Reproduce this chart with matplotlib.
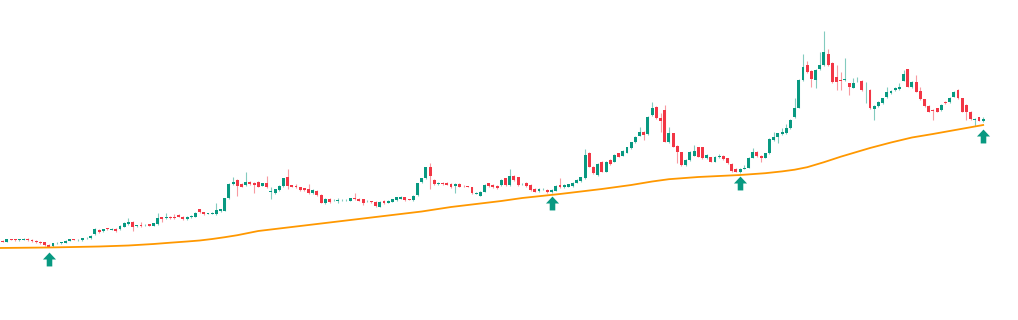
import numpy as np
import matplotlib
matplotlib.use("Agg")
import matplotlib.pyplot as plt
from matplotlib.path import Path

# ── Candle data (price units, one entry per session)
opens = [
    59.0, 58.3, 61.0, 60.7, 60.2, 60.5, 61.0, 60.0, 59.0, 58.3,
    57.7, 55.3, 53.7, 56.7, 57.0, 57.3, 59.3, 60.7, 59.7, 59.7,
    61.7, 61.7, 65.7, 70.0, 68.7, 71.3, 70.5, 71.3, 71.0, 73.3,
    76.0, 78.3, 74.1, 75.0, 74.7, 75.7, 74.3, 76.0, 82.7, 81.7,
    83.3, 83.3, 85.0, 83.3, 81.0, 82.7, 83.3, 90.7, 87.7, 86.5,
    86.5, 85.7, 89.0, 89.3, 101.7, 116.0, 120.0, 116.0, 115.0, 118.3,
    117.3, 118.3, 114.3, 116.7, 108.0, 106.7, 110.0, 114.0, 122.7, 114.7,
    114.0, 112.7, 111.7, 110.7, 106.7, 109.3, 105.0, 96.7, 101.3, 99.7,
    99.2, 99.7, 99.7, 99.3, 101.7, 101.3, 100.7, 98.7, 98.7, 98.3,
    93.3, 99.3, 97.3, 98.3, 100.0, 101.3, 102.7, 100.8, 100.0, 105.0,
    117.7, 121.7, 133.3, 120.0, 116.0, 117.3, 117.3, 116.0, 114.0, 116.0,
    114.2, 113.5, 112.7, 106.5, 104.3, 108.3, 116.7, 115.0, 114.3, 115.0,
    121.7, 115.0, 124.0, 122.7, 115.7, 117.3, 115.0, 111.0, 109.0, 110.7,
    110.0, 107.7, 109.3, 115.0, 112.7, 113.3, 114.0, 117.3, 119.0, 121.7,
    146.7, 133.3, 125.0, 138.3, 128.3, 140.0, 138.3, 146.7, 144.3, 147.3,
    151.7, 157.7, 164.3, 168.3, 166.0, 185.0, 193.3, 182.3, 190.0, 157.7,
    166.7, 154.0, 147.7, 135.0, 140.0, 144.3, 152.7, 152.7, 141.7, 142.7,
    138.3, 143.0, 144.3, 141.7, 136.0, 131.0, 127.7, 131.3, 132.3, 142.3,
    148.3, 144.3, 142.3, 146.7, 160.0, 163.3, 165.7, 166.7, 171.7, 183.0,
    192.3, 220.0, 235.0, 229.0, 220.0, 230.7, 235.0, 245.7, 237.3, 223.3,
    219.5, 220.0, 216.7, 212.3, 218.7, 219.0, 208.7, 210.0, 190.7, 194.0,
    196.7, 202.7, 206.7, 210.0, 210.7, 219.3, 230.7, 212.7, 218.3, 209.0,
    200.7, 194.3, 190.0, 191.7, 190.0, 198.0, 197.7, 203.3, 210.0, 201.7,
    195.0, 188.0, 180.5, 182.7, 179.3,
]
closes = [
    58.3, 61.0, 60.5, 60.2, 60.7, 61.0, 60.0, 59.0, 58.0, 57.3,
    55.3, 53.3, 56.7, 57.0, 57.7, 59.3, 60.7, 60.3, 60.0, 61.7,
    62.2, 64.3, 70.7, 68.3, 70.7, 71.1, 71.0, 69.3, 74.0, 77.3,
    77.7, 73.3, 74.5, 74.0, 75.2, 74.3, 76.7, 81.7, 80.7, 83.3,
    82.0, 82.3, 83.3, 80.7, 83.3, 84.0, 87.3, 87.7, 85.7, 86.8,
    87.0, 90.0, 90.7, 101.7, 116.0, 117.7, 114.0, 113.3, 117.7, 116.0,
    115.3, 113.3, 116.7, 112.7, 108.5, 110.7, 114.0, 121.7, 114.0, 113.3,
    112.7, 110.0, 110.0, 106.7, 110.0, 105.0, 97.3, 101.0, 98.0, 100.0,
    99.7, 100.2, 100.2, 101.7, 101.2, 99.3, 97.3, 99.3, 98.0, 94.0,
    98.3, 96.7, 99.3, 100.7, 102.7, 103.3, 100.0, 100.4, 104.3, 116.7,
    121.7, 132.7, 124.3, 116.0, 117.3, 116.0, 115.3, 112.7, 116.0, 113.3,
    113.7, 113.3, 106.7, 107.0, 108.3, 115.0, 114.0, 112.7, 111.7, 120.0,
    115.0, 124.0, 120.0, 115.0, 116.2, 114.0, 110.0, 108.3, 111.0, 111.0,
    108.0, 110.0, 114.0, 112.7, 115.0, 115.7, 117.3, 120.0, 122.7, 145.0,
    133.3, 126.7, 136.0, 128.3, 138.3, 136.0, 145.0, 143.3, 149.3, 152.7,
    157.7, 163.3, 168.3, 165.0, 183.3, 191.7, 181.7, 179.0, 158.3, 166.7,
    153.3, 147.7, 135.0, 140.0, 148.3, 149.3, 143.3, 141.7, 145.0, 138.3,
    143.3, 143.5, 141.0, 136.7, 129.0, 128.3, 131.0, 131.7, 142.3, 148.3,
    144.0, 142.3, 146.7, 161.0, 163.3, 166.7, 168.3, 171.7, 180.0, 192.3,
    220.0, 233.3, 227.7, 221.0, 230.0, 235.0, 248.3, 235.0, 217.7, 217.7,
    219.0, 220.7, 213.3, 216.7, 219.0, 210.0, 209.0, 191.7, 194.0, 198.3,
    201.7, 208.3, 209.3, 212.3, 213.3, 226.0, 213.3, 218.3, 208.3, 200.7,
    194.0, 188.3, 189.0, 188.3, 195.0, 197.0, 202.3, 208.3, 201.7, 188.3,
    188.0, 181.0, 181.0, 179.3, 181.3,
]
highs = [
    59.8, 61.5, 61.5, 61.5, 61.5, 61.8, 61.8, 60.8, 59.8, 59.0,
    58.3, 56.0, 57.3, 57.8, 58.5, 60.0, 61.3, 61.5, 60.8, 62.3,
    63.0, 65.0, 72.0, 70.8, 71.3, 72.0, 71.7, 72.0, 75.3, 78.0,
    82.3, 79.0, 75.3, 78.0, 76.0, 76.3, 77.3, 86.7, 83.3, 86.7,
    84.0, 86.0, 85.7, 84.0, 84.0, 84.7, 88.0, 91.3, 88.3, 87.5,
    87.7, 96.7, 91.3, 102.3, 117.3, 123.3, 120.7, 116.7, 128.3, 119.0,
    118.0, 119.0, 117.3, 124.0, 112.7, 111.3, 114.7, 122.3, 130.7, 115.3,
    116.0, 113.3, 112.3, 116.0, 110.7, 110.0, 105.7, 101.7, 102.0, 100.7,
    101.7, 101.0, 101.0, 102.3, 107.3, 102.0, 101.3, 100.0, 99.3, 99.0,
    99.0, 100.0, 100.0, 101.3, 103.3, 104.0, 103.3, 101.5, 105.0, 117.3,
    122.3, 133.3, 137.3, 120.7, 118.0, 118.0, 118.0, 116.7, 116.7, 116.7,
    115.0, 114.2, 113.3, 107.7, 109.0, 115.7, 117.3, 115.7, 115.0, 120.7,
    122.3, 131.0, 124.7, 123.3, 117.0, 118.0, 115.7, 111.7, 111.7, 112.0,
    110.7, 110.7, 114.7, 121.7, 115.7, 116.3, 118.0, 120.7, 123.3, 150.7,
    148.0, 134.0, 136.7, 139.0, 139.0, 140.7, 145.7, 147.3, 150.0, 153.3,
    158.3, 164.0, 173.3, 169.0, 184.0, 198.3, 194.0, 186.7, 195.0, 172.7,
    167.3, 154.7, 148.3, 140.7, 149.0, 155.0, 153.3, 153.3, 145.7, 143.3,
    144.0, 146.0, 145.0, 142.3, 136.7, 131.7, 131.7, 135.0, 143.0, 152.3,
    149.0, 145.0, 147.3, 161.7, 168.3, 167.3, 171.7, 175.7, 180.7, 202.3,
    220.7, 245.7, 239.0, 229.7, 230.7, 248.3, 269.0, 251.0, 238.0, 235.0,
    228.3, 241.7, 217.3, 221.7, 223.3, 219.7, 218.3, 210.7, 194.7, 199.0,
    202.3, 213.3, 210.0, 213.0, 216.7, 230.0, 231.3, 219.0, 225.0, 213.3,
    201.3, 195.0, 191.0, 192.3, 195.7, 198.7, 203.0, 209.0, 210.7, 202.3,
    195.7, 188.7, 182.0, 183.3, 183.0,
]
lows = [
    57.8, 58.0, 60.0, 59.5, 59.5, 60.0, 59.2, 58.2, 57.2, 56.5,
    54.5, 52.8, 53.0, 56.0, 56.3, 56.8, 58.8, 59.7, 59.0, 59.2,
    61.0, 61.2, 65.0, 67.5, 68.0, 70.5, 69.8, 68.5, 70.0, 72.7,
    75.0, 69.3, 73.5, 73.3, 74.0, 73.7, 73.7, 75.5, 78.3, 81.0,
    81.3, 81.5, 82.7, 80.0, 80.3, 82.0, 82.7, 87.0, 85.0, 85.8,
    85.8, 85.0, 88.3, 88.7, 101.0, 115.3, 104.3, 112.7, 114.0, 115.3,
    106.7, 112.7, 113.7, 112.0, 100.7, 106.0, 109.3, 113.3, 110.7, 112.7,
    112.0, 109.3, 109.3, 106.0, 106.0, 104.3, 96.7, 96.0, 97.3, 99.0,
    96.7, 99.0, 99.0, 98.7, 100.3, 98.7, 95.0, 98.0, 97.3, 93.3,
    92.7, 96.0, 96.7, 97.7, 99.3, 100.7, 99.3, 99.7, 99.3, 104.3,
    117.0, 121.0, 110.7, 115.3, 115.3, 115.3, 114.7, 112.0, 106.7, 112.7,
    113.0, 112.7, 106.0, 105.8, 103.7, 107.7, 113.3, 112.0, 111.0, 114.3,
    114.3, 114.3, 119.3, 114.3, 115.0, 113.3, 109.3, 107.7, 108.3, 110.0,
    107.3, 107.0, 108.7, 112.0, 112.0, 112.7, 113.3, 116.7, 118.3, 121.0,
    132.7, 126.0, 124.3, 127.7, 127.7, 135.3, 137.7, 142.7, 143.7, 146.7,
    151.0, 157.0, 163.7, 160.0, 165.3, 184.3, 181.0, 168.3, 157.7, 157.0,
    152.7, 136.7, 134.3, 134.3, 139.3, 143.7, 142.7, 141.0, 141.0, 137.7,
    137.7, 142.3, 140.3, 136.0, 128.3, 127.7, 127.0, 130.7, 131.7, 141.7,
    143.3, 137.7, 141.7, 146.0, 159.3, 156.7, 165.0, 166.0, 171.0, 182.3,
    191.7, 219.3, 227.0, 213.3, 211.7, 230.0, 234.3, 234.3, 217.0, 210.0,
    210.0, 219.3, 205.0, 211.7, 218.0, 209.3, 196.7, 191.0, 180.0, 193.3,
    196.0, 202.0, 206.0, 209.3, 210.0, 218.7, 212.7, 212.0, 207.7, 200.0,
    193.3, 187.7, 180.0, 187.7, 189.3, 196.3, 197.0, 202.7, 201.0, 187.7,
    180.0, 180.3, 174.0, 178.7, 178.0,
]

# ── Long moving average (sampled along the candle index)
ma_idx = [-1, 11, 23, 30, 36, 40, 44, 47, 50, 53, 56, 61, 71, 83, 97, 100,
          107, 119, 124, 133, 143, 150, 155, 159, 166, 176, 182, 186, 189,
          192, 196, 200, 207, 212, 217, 222, 226, 230, 234]
ma_vals = [52.0, 52.5, 53.5, 54.5, 56.0, 57.3, 58.5, 59.5, 61.0, 62.8, 64.8,
           69.0, 74.0, 80.0, 87.0, 88.5, 93.0, 99.0, 102.0, 106.0, 111.0, 115.0,
           118.5, 120.8, 123.0, 125.0, 126.8, 128.6, 130.3, 132.8, 137.8, 143.3,
           152.0, 157.5, 162.5, 166.0, 169.0, 172.0, 175.0]

# ── Buy signals (arrow below the bar)
signal_idx = [11, 131, 176, 234]
signal_price = [41.5, 97.0, 117.0, 164.0]

GREEN = "#089981"
RED = "#F23645"
ORANGE = "#FF9800"

o = np.array(opens)
c = np.array(closes)
x = np.arange(len(c))
colors = np.where(c >= o, GREEN, RED)

fig = plt.figure(figsize=(10.18, 3.2), dpi=100)
ax = fig.add_axes([0, 0, 1, 1])

# wicks then bodies
ax.vlines(x, lows, highs, colors=colors, linewidth=0.8, alpha=0.5, zorder=1)
ax.bar(x, np.maximum(np.abs(c - o), 0.8), bottom=np.minimum(o, c), width=0.7,
       color=colors, linewidth=0, zorder=2)

ax.plot(ma_idx, ma_vals, color=ORANGE, linewidth=1.3, zorder=3)

arrow = Path([(0, 0.5), (0.47, 0.0), (0.2, 0.0), (0.2, -0.5), (-0.2, -0.5),
              (-0.2, 0.0), (-0.47, 0.0), (0, 0.5)], closed=True)
ax.scatter(signal_idx, signal_price, marker=arrow, s=100, color=GREEN,
           linewidths=0, zorder=4)

xmin = -2.7 / 4.19
ax.set_xlim(xmin, xmin + 1018 / 4.19)
ax.set_ylim(-20, 300)
ax.axis("off")

fig.savefig("out.png", dpi=100)
